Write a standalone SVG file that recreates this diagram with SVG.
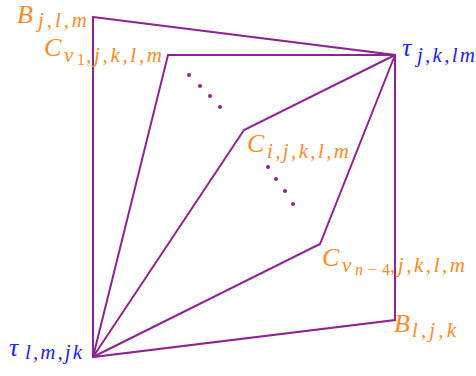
<svg xmlns="http://www.w3.org/2000/svg" width="476" height="376" viewBox="0 0 476 376">
<style>
.e{fill:none;stroke:#8e2392;stroke-width:2;stroke-linejoin:miter}
.d{fill:#8e2392}
.t{font-family:"Liberation Serif",serif;font-style:italic;font-size:26px}
.o{fill:#ff8a1c}
.b{fill:#2222ff}
.s{font-size:21px}
.ss{font-size:16px}
.up{font-style:normal}
</style>
<rect width="476" height="376" fill="#fff"/>
<g id="connectors">
<path class="e" d="M93,17 L395,55 L395,320 L93,357 Z"/>
<path class="e" d="M93,357 L168,55 L395,55"/>
<path class="e" d="M93,357 L244,130 L395,55"/>
<path class="e" d="M93,357 L320,244 L395,55"/>
<g class="d">
<circle cx="189" cy="75" r="2"/><circle cx="200" cy="86" r="2"/><circle cx="210" cy="96" r="2"/><circle cx="220" cy="107" r="2"/>
<circle cx="268" cy="167" r="2"/><circle cx="276" cy="179" r="2"/><circle cx="285" cy="191" r="2"/><circle cx="293" cy="204" r="2"/>
</g>
</g>
<g id="B_jlm"><text class="t o"><tspan x="17" y="23">B</tspan><tspan class="s" x="38" y="27" textLength="49">j,l,m</tspan></text></g>
<g id="C_v1"><text class="t o"><tspan x="44" y="56">C</tspan><tspan class="s" x="64" y="62">v</tspan><tspan class="ss up" x="77" y="65">1</tspan><tspan class="s" x="86" y="62" textLength="76">,j,k,l,m</tspan></text></g>
<g id="tau_jklm"><text class="t b"><tspan x="402" y="56">τ</tspan><tspan class="s" x="417" y="62" textLength="58">j,k,lm</tspan></text></g>
<g id="C_i"><text class="t o"><tspan x="247" y="152">C</tspan><tspan class="s" x="267" y="158" textLength="82">i,j,k,l,m</tspan></text></g>
<g id="C_vn4"><text class="t o"><tspan x="322" y="266">C</tspan><tspan class="s" x="342" y="272">v</tspan><tspan class="ss" x="355" y="275">n</tspan><tspan class="ss up" x="368" y="275">−</tspan><tspan class="ss up" x="382" y="275">4</tspan><tspan class="s" x="390" y="272" textLength="75">,j,k,l,m</tspan></text></g>
<g id="B_ljk"><text class="t o"><tspan x="394" y="332">B</tspan><tspan class="s" x="412" y="337" textLength="44">l,j,k</tspan></text></g>
<g id="tau_lmjk"><text class="t b"><tspan x="9" y="356">τ</tspan><tspan class="s" x="25" y="359" textLength="57">l,m,jk</tspan></text></g>
</svg>
